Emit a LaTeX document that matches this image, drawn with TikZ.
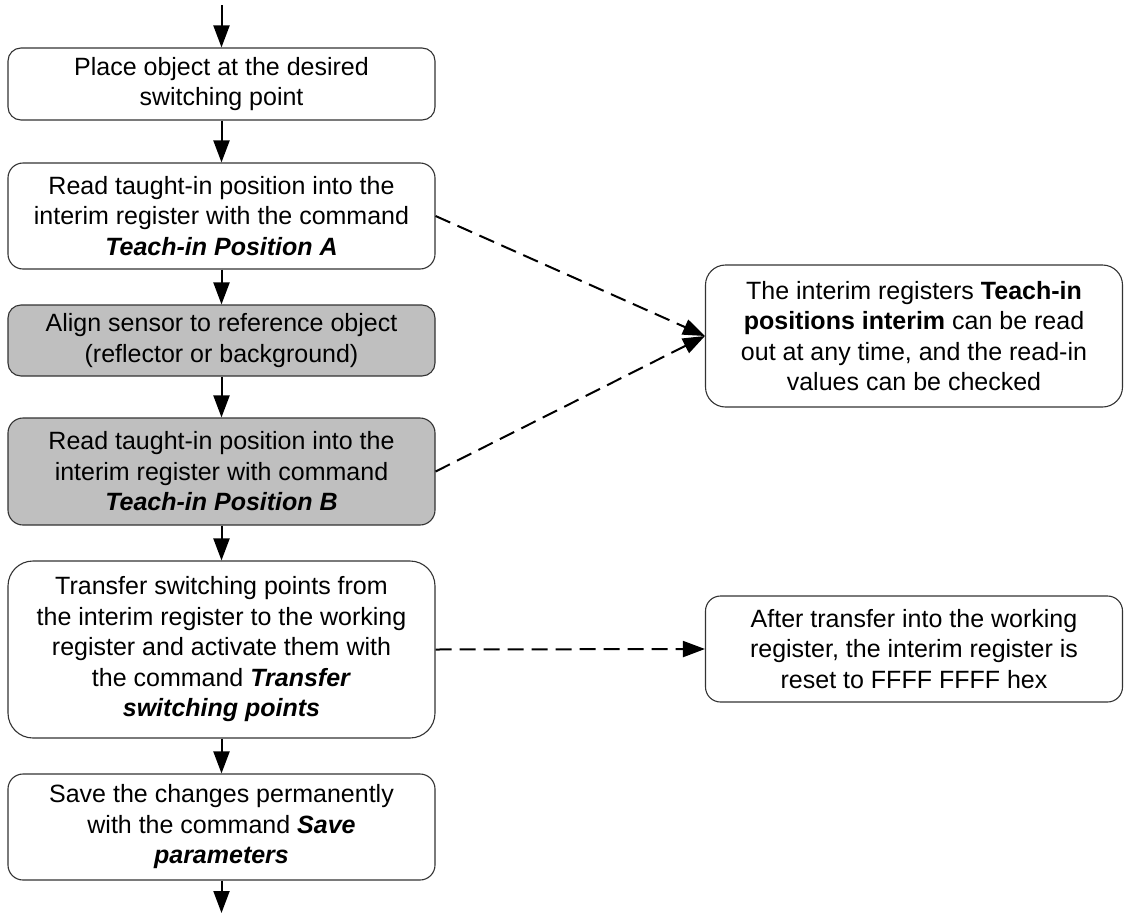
\documentclass[tikz,border=0pt]{standalone}
\usepackage{fontspec}
\setmainfont{Liberation Sans}
\usetikzlibrary{arrows.meta}
\begin{document}
\begin{tikzpicture}[x=1pt,y=-1pt,
  every node/.style={font=\fontsize{25}{30.5}\selectfont},
  box/.style={draw=black!80, line width=1.1pt, align=center, inner sep=0pt, text=black},
  leftbox/.style={box, minimum width=427pt},
  rightbox/.style={box, minimum width=417pt},
  grey/.style={fill=black!25},
  flow/.style={line width=2pt, -{Triangle[length=22pt,width=16pt]}},
  note/.style={line width=2pt, dash pattern=on 16pt off 8pt, -{Triangle[length=22pt,width=16pt]}}]
\useasboundingbox (0,0) rectangle (1125,913);
\node[leftbox, minimum height=72pt, rounded corners=13pt] (b1) at (221.5,84)
  {Place object at the desired\\switching point};
\node[leftbox, minimum height=106pt, rounded corners=15pt] (b2) at (221.5,216)
  {Read taught-in position into the\\interim register with the command\\\textbf{\textit{Teach-in Position A}}};
\node[leftbox, grey, minimum height=71pt, rounded corners=13pt] (b3) at (221.5,340.5)
  {Align sensor to reference object\\(reflector or background)};
\node[leftbox, grey, minimum height=107pt, rounded corners=15pt] (b4) at (221.5,471.5)
  {Read taught-in position into the\\interim register with command\\\textbf{\textit{Teach-in Position B}}};
\node[leftbox, minimum height=177pt, rounded corners=25pt] (b5) at (221.5,649.5)
  {Transfer switching points from\\the interim register to the working\\register and activate them with\\the command \textbf{\textit{Transfer}}\\\textbf{\textit{switching points}}};
\node[leftbox, minimum height=106pt, rounded corners=15pt] (b6) at (221.5,827)
  {Save the changes permanently\\with the command \textbf{\textit{Save}}\\\textbf{\textit{parameters}}};
\node[rightbox, minimum height=142pt, rounded corners=20pt] (r1) at (914,336)
  {The interim registers \textbf{Teach-in}\\\textbf{positions interim} can be read\\out at any time, and the read-in\\values can be checked};
\node[rightbox, minimum height=106pt, rounded corners=15pt] (r2) at (914,649)
  {After transfer into the working\\register, the interim register is\\reset to FFFF FFFF hex};
\coordinate (top) at (221.5,5);
\coordinate (bot) at (221.5,913);
\draw[flow] (top) -- (b1.north);
\draw[flow] (b1) -- (b2);
\draw[flow] (b2) -- (b3);
\draw[flow] (b3) -- (b4);
\draw[flow] (b4) -- (b5);
\draw[flow] (b5) -- (b6);
\draw[flow] (b6.south) -- (bot);
\draw[note] (b2.east) -- (r1.west);
\draw[note] (b4.east) -- (r1.west);
\draw[note] (b5.east) -- (r2.west);
\end{tikzpicture}
\end{document}
